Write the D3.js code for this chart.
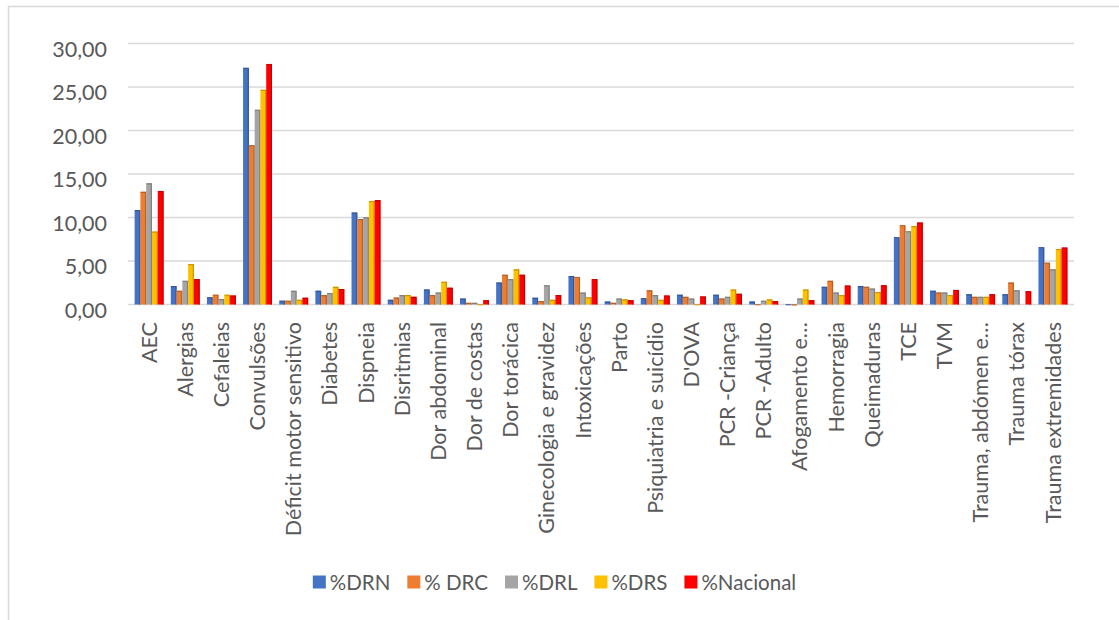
<!DOCTYPE html>
<html>
<head>
<meta charset="utf-8">
<script src="https://cdn.jsdelivr.net/npm/d3@7"></script>
<style>
  html, body { margin: 0; padding: 0; background: #ffffff; }
  svg { display: block; }
</style>
</head>
<body>
<svg id="chart" width="1119" height="620"></svg>
<script>
const categories = ["AEC", "Alergias", "Cefaleias", "Convulsões", "Déficit motor sensitivo", "Diabetes", "Dispneia", "Disritmias", "Dor abdominal", "Dor de costas", "Dor torácica", "Ginecologia e gravidez", "Intoxicações", "Parto", "Psiquiatria e suicídio", "D'OVA", "PCR -Criança", "PCR -Adulto", "Afogamento e…", "Hemorragia", "Queimaduras", "TCE", "TVM", "Trauma, abdómen e…", "Trauma tórax", "Trauma extremidades"];

const seriesNames = ["%DRN", "% DRC", "%DRL", "%DRS", "%Nacional"];

const drn      = [10.86, 2.12, 0.83, 27.20, 0.44, 1.58, 10.57, 0.54, 1.73, 0.68, 2.52, 0.78, 3.27, 0.34, 0.73, 1.13, 1.13, 0.34, 0.04, 2.03, 2.12, 7.74, 1.58, 1.18, 1.18, 6.59];
const drc      = [12.95, 1.58, 1.13, 18.31, 0.44, 1.08, 9.82, 0.80, 1.08, 0.19, 3.42, 0.39, 3.17, 0.19, 1.63, 0.88, 0.68, 0.04, 0.03, 2.72, 2.03, 9.12, 1.38, 0.88, 2.52, 4.81];
const drl      = [13.94, 2.72, 0.64, 22.38, 1.58, 1.33, 10.02, 1.08, 1.38, 0.19, 2.92, 2.22, 1.38, 0.68, 1.08, 0.68, 0.88, 0.44, 0.68, 1.38, 1.83, 8.43, 1.38, 0.88, 1.63, 4.06];
const drs      = [8.38, 4.66, 1.13, 24.67, 0.54, 2.03, 11.90, 1.08, 2.62, 0.04, 4.06, 0.54, 0.83, 0.59, 0.54, 0.04, 1.73, 0.59, 1.73, 1.08, 1.43, 9.03, 1.08, 0.88, 0.00, 6.39];
const nacional = [13.05, 2.92, 1.03, 27.65, 0.78, 1.78, 12.00, 0.88, 1.93, 0.49, 3.42, 1.08, 2.92, 0.49, 1.03, 0.93, 1.23, 0.39, 0.49, 2.17, 2.22, 9.42, 1.68, 1.18, 1.53, 6.54];

const yTicks = [0, 5, 10, 15, 20, 25, 30];
const colors = ["#4472C4", "#ED7D31", "#A5A5A5", "#FFC000", "#FF0000"];

const seriesValues = [drn, drc, drl, drs, nacional];

const svg = d3.select("#chart");
const FONT = "Lato, 'Noto Sans', sans-serif";
const TXT = "#595959";

// chart frame (Excel chart area border)
svg.append("rect")
  .attr("x", 8.5).attr("y", 6.5)
  .attr("width", 1200).attr("height", 700)
  .attr("fill", "#ffffff")
  .attr("stroke", "#d9d9d9").attr("stroke-width", 1.5);

const y = d3.scaleLinear().domain([0, 30]).range([304.5, 43.5]);
const x = d3.scaleBand().domain(categories).range([131, 1071]).paddingInner(0).paddingOuter(0);
const xs = d3.scaleBand().domain(seriesNames)
  .range([x.bandwidth() * 0.1, x.bandwidth() * 0.9]).padding(0);

// gridlines
const gx0 = 128, gx1 = 1074;
svg.append("g").selectAll("line")
  .data(yTicks)
  .join("line")
  .attr("x1", gx0).attr("x2", gx1)
  .attr("y1", d => y(d)).attr("y2", d => y(d))
  .attr("stroke", "#d9d9d9").attr("stroke-width", 1.5);

// y axis labels
svg.append("g").selectAll("text")
  .data(yTicks)
  .join("text")
  .attr("x", 107)
  .attr("y", d => y(d) + 5)
  .attr("text-anchor", "end")
  .attr("dominant-baseline", "central")
  .attr("font-family", FONT)
  .attr("font-size", "21.5px")
  .attr("fill", TXT)
  .text(d => d3.format(".2f")(d).replace(".", ","));

// bars
const rows = [];
categories.forEach((c, i) => {
  seriesNames.forEach((s, j) => {
    rows.push({ cat: c, ser: s, v: seriesValues[j][i], color: colors[j] });
  });
});

const bars = svg.append("g").selectAll("g")
  .data(rows)
  .join("g")
  .attr("transform", d => `translate(${x(d.cat) + xs(d.ser)},0)`);

bars.append("rect")
  .attr("x", 0)
  .attr("y", d => y(d.v))
  .attr("width", xs.bandwidth())
  .attr("height", d => y(0) - y(d.v))
  .attr("fill", d => d.color);

// subtle 3D bevel: darker top and right edges
bars.filter(d => d.v > 0.02).append("path")
  .attr("d", d => {
    const w = xs.bandwidth();
    const t = y(d.v);
    return `M0.3,${t + 0.6} L${w - 0.6},${t + 0.6} L${w - 0.6},${y(0)}`;
  })
  .attr("fill", "none")
  .attr("stroke", d => d3.color(d.color).darker(0.7))
  .attr("stroke-width", 1.2);

// category labels (rotated)
svg.append("g").selectAll("text")
  .data(categories)
  .join("text")
  .attr("transform", d => `translate(${x(d) + x.bandwidth() / 2 + 7.6},322) rotate(-90)`)
  .attr("text-anchor", "end")
  .attr("font-family", FONT)
  .attr("font-size", "21.5px")
  .attr("fill", TXT)
  .text(d => d);

// legend
const legend = svg.append("g");
const items = legend.selectAll("g")
  .data(seriesNames)
  .join("g");
items.append("rect")
  .attr("width", 13).attr("height", 13)
  .attr("y", 575.5)
  .attr("fill", (d, i) => colors[i]);
items.append("text")
  .attr("x", 17)
  .attr("y", 582)
  .attr("dominant-baseline", "central")
  .attr("font-family", FONT)
  .attr("font-size", "20.5px")
  .attr("fill", TXT)
  .text(d => d);

let cx = 0;
const gap = 17;
items.each(function(d, i) {
  const tw = d3.select(this).select("text").node().getComputedTextLength();
  d3.select(this).attr("transform", `translate(${cx},0)`);
  cx += 17 + tw + gap;
});
const totalW = cx - gap;
legend.attr("transform", `translate(${(310 + 799) / 2 - totalW / 2},0)`);
</script>
</body>
</html>
